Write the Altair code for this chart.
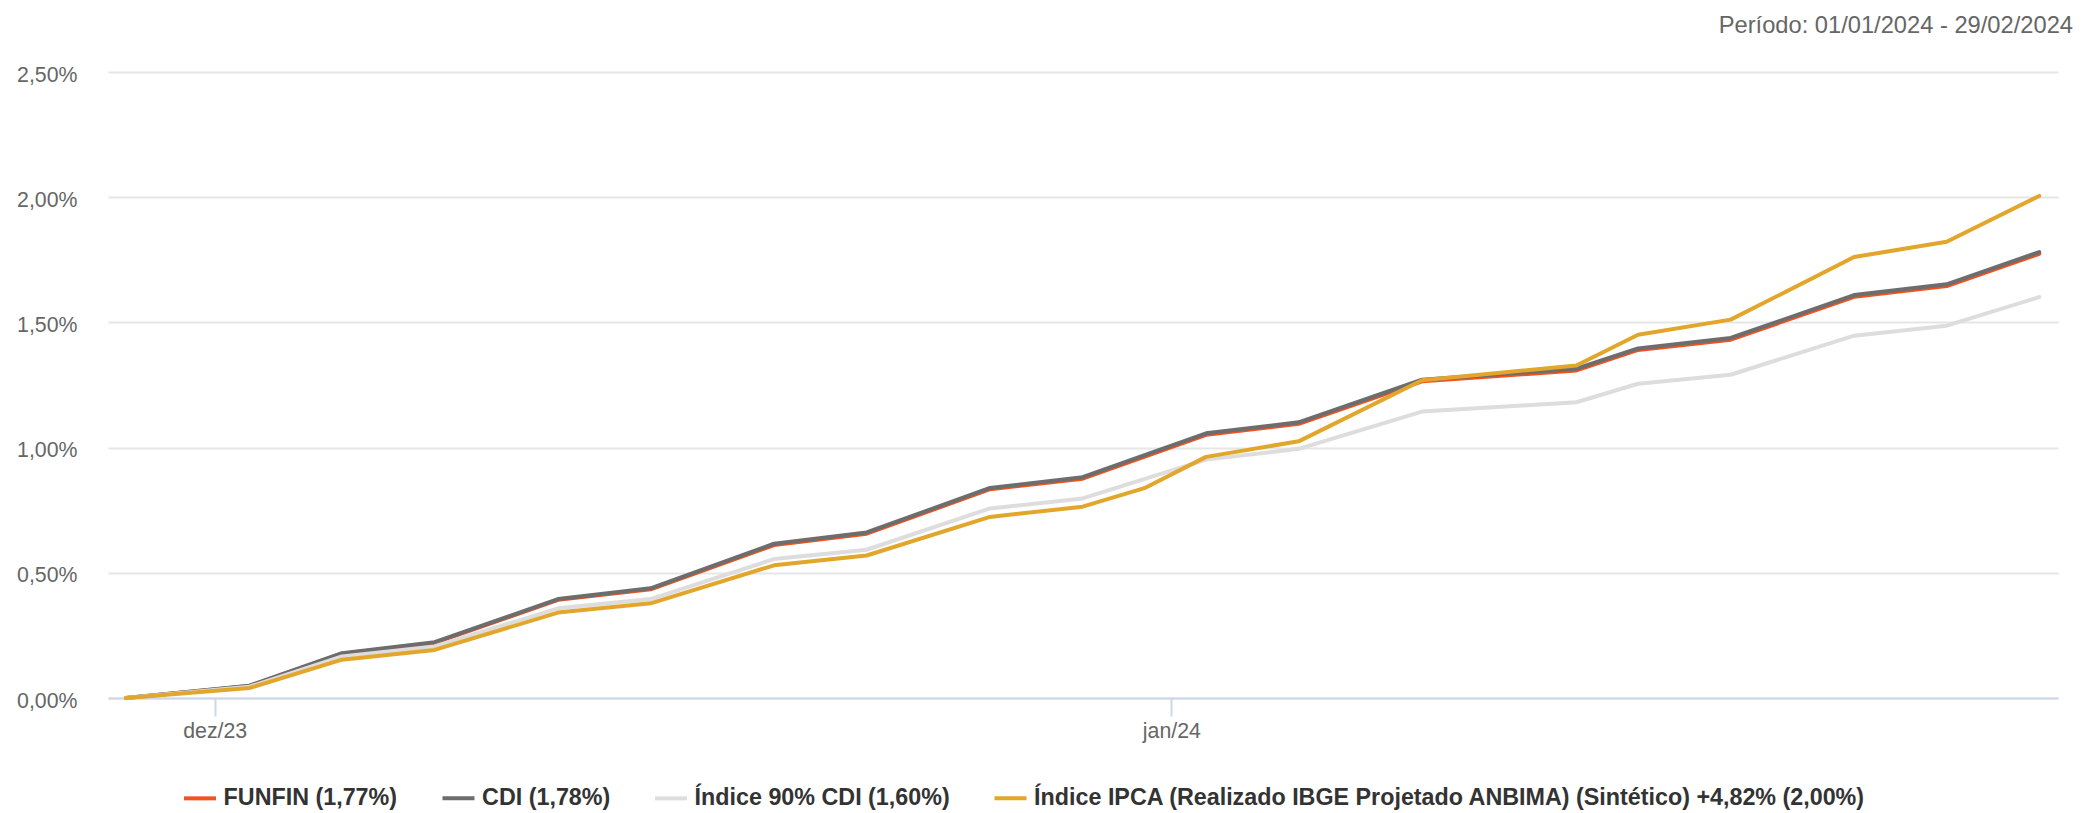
import altair as alt
import pandas as pd

# ---- data ----
dates_main = ["2023-12-29", "2024-01-02", "2024-01-05", "2024-01-08", "2024-01-12",
              "2024-01-15", "2024-01-19", "2024-01-22", "2024-01-26", "2024-01-29",
              "2024-02-02", "2024-02-05", "2024-02-09", "2024-02-14", "2024-02-16",
              "2024-02-19", "2024-02-23", "2024-02-26", "2024-02-29"]
dates_ipca = ["2023-12-29", "2024-01-02", "2024-01-05", "2024-01-08", "2024-01-12",
              "2024-01-15", "2024-01-19", "2024-01-22", "2024-01-26", "2024-01-29",
              "2024-01-31", "2024-02-02", "2024-02-05", "2024-02-09", "2024-02-14",
              "2024-02-16", "2024-02-19", "2024-02-23", "2024-02-26", "2024-02-29"]

funfin = [0.000, 0.048, 0.177, 0.220, 0.392, 0.434, 0.611, 0.656, 0.834, 0.876,
          1.051, 1.095, 1.265, 1.308, 1.390, 1.431, 1.602, 1.645, 1.774]
cdi = [0.000, 0.049, 0.179, 0.223, 0.395, 0.438, 0.616, 0.661, 0.839, 0.882,
       1.057, 1.101, 1.271, 1.315, 1.396, 1.438, 1.609, 1.652, 1.781]
cdi90 = [0.000, 0.045, 0.166, 0.206, 0.358, 0.395, 0.555, 0.592, 0.757, 0.797,
         0.952, 0.995, 1.144, 1.181, 1.255, 1.291, 1.447, 1.487, 1.601]
ipca = [0.000, 0.040, 0.153, 0.192, 0.341, 0.378, 0.530, 0.569, 0.723, 0.764,
        0.838, 0.963, 1.025, 1.269, 1.328, 1.451, 1.511, 1.761, 1.822, 2.005]

series_names = ["FUNFIN", "CDI", "Índice 90% CDI",
                "Índice IPCA (Realizado IBGE Projetado ANBIMA) (Sintético) +4,82%"]
series_totals = ["1,77%", "1,78%", "1,60%", "2,00%"]
series_colors = ["#f4511e", "#6d6d6d", "#dddddd", "#e2a62a"]

tick_dates = [(2024, 1, 1), (2024, 2, 1)]
tick_labels = ["dez/23", "jan/24"]
y_ticks = [0, 0.5, 1.0, 1.5, 2.0, 2.5]
period_text = "Período: 01/01/2024 - 29/02/2024"

# ---- table ----
labels = [f"{n} ({t})" for n, t in zip(series_names, series_totals)]
rows = []
for lab, ds, vs in zip(labels, [dates_main, dates_main, dates_main, dates_ipca],
                       [funfin, cdi, cdi90, ipca]):
    for d, v in zip(ds, vs):
        rows.append({"date": d + "T03:00:00", "value": v, "label": lab})
df = pd.DataFrame(rows)

x_label_expr = " : ".join(
    f"(year(datum.value)=={y} && month(datum.value)=={m-1} && date(datum.value)=={dd}) ? '{l}'"
    for (y, m, dd), l in zip(tick_dates, tick_labels)
) + " : ''"

FONT = "Liberation Sans"

base = alt.Chart(df).encode(
    x=alt.X(
        "date:T",
        title=None,
        scale=alt.Scale(domain=[
            alt.DateTime(year=2023, month=12, date=28, hours=13),
            alt.DateTime(year=2024, month=2, date=29, hours=17, minutes=35),
        ]),
        axis=alt.Axis(
            values=[alt.DateTime(year=y, month=m, date=dd) for (y, m, dd) in tick_dates],
            labelExpr=x_label_expr,
            grid=False,
            domainColor="#ccd6eb", domainWidth=2,
            tickColor="#ccd6eb", tickWidth=2, tickSize=18,
            labelColor="#666666", labelFontSize=21.3, labelFont=FONT,
            labelPadding=4,
        ),
    ),
    y=alt.Y(
        "value:Q",
        title=None,
        scale=alt.Scale(domain=[0, 2.5], nice=False, zero=True),
        axis=alt.Axis(
            values=y_ticks,
            labelExpr="replace(format(datum.value, '.2f'), '.', ',') + '%'",
            domain=False, ticks=False,
            gridColor="#e6e6e6", gridWidth=2,
            labelColor="#666666", labelFontSize=21.3, labelFont=FONT,
            labelPadding=31, labelOffset=3,
        ),
    ),
    color=alt.Color(
        "label:N",
        scale=alt.Scale(domain=labels, range=series_colors),
        legend=alt.Legend(
            title=None, orient="none", legendX=74, legendY=708,
            direction="horizontal", columns=4,
            symbolType="stroke", symbolSize=1024, symbolStrokeWidth=4,
            labelFontSize=23.3, labelFontWeight="bold", labelColor="#333333",
            labelFont=FONT, labelOffset=5.6, columnPadding=36.5, labelLimit=2000,
        ),
    ),
)

layers = [
    base.transform_filter(alt.FieldOneOfPredicate(field="label", oneOf=[lab]))
    .mark_line(strokeWidth=4, strokeCap="round", strokeJoin="round")
    for lab in labels
]

chart = alt.layer(*layers).properties(
    width=1950,
    height=626,
    autosize=alt.AutoSizeParams(type="none"),
    padding={"left": 100, "top": 64, "right": 16, "bottom": 113},
    title=alt.TitleParams(
        text=period_text, anchor="end", frame="group",
        fontSize=23.7, font=FONT, fontWeight="normal", color="#666666",
        offset=26.5, dx=15,
    ),
).configure_view(stroke=None)

chart.save("out.html", embed_options={"renderer": "svg", "actions": False})
